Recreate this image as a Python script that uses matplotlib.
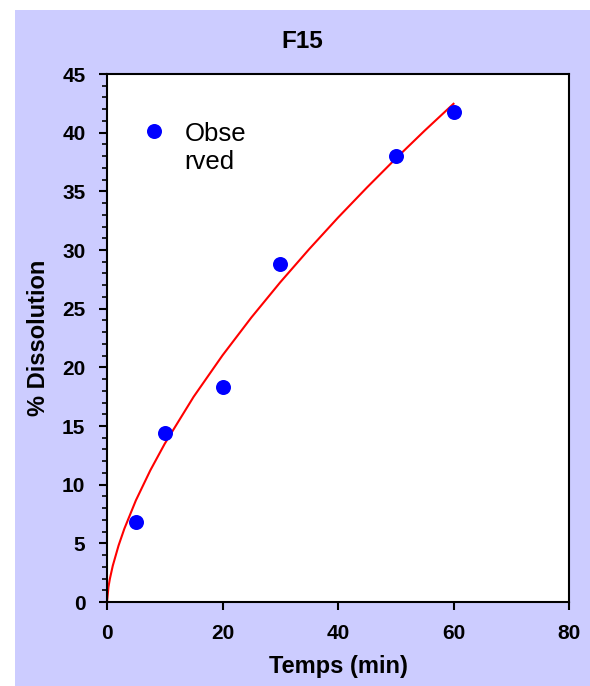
import matplotlib
matplotlib.use("Agg")
import matplotlib.pyplot as plt
from matplotlib.patches import Rectangle
from matplotlib.ticker import MultipleLocator

plt.rcParams['font.family'] = ['Liberation Sans', 'DejaVu Sans']

# Observed dissolution
time_obs = [5, 10, 20, 30, 50, 60]
diss_obs = [6.8, 14.4, 18.3, 28.8, 38.0, 41.8]

# Fitted release curve
time_fit = [0, 0.25, 0.5, 1, 2, 3, 5, 7.5, 10, 15, 20, 25, 30, 35, 40, 45, 50, 55, 60]
diss_fit = [0, 1.27, 1.98, 3.09, 4.81, 6.24, 8.66, 11.22, 13.49, 17.49, 21.02,
            24.25, 27.25, 30.07, 32.76, 35.32, 37.79, 40.17, 42.46]

x_ticks = [0, 20, 40, 60, 80]
y_ticks = [0, 5, 10, 15, 20, 25, 30, 35, 40, 45]

W, H = 590, 686
fig = plt.figure(figsize=(W / 100, H / 100), dpi=100, facecolor='white')
fig.add_artist(Rectangle((15 / W, 0), 1 - 15 / W, 1 - 10 / H,
                         transform=fig.transFigure, facecolor='#CCCCFF',
                         edgecolor='none', zorder=-10))

ax = fig.add_axes([107 / W, (H - 602) / H, 462 / W, 528 / H])
ax.set_facecolor('white')

ax.plot(time_fit, diss_fit, color='red', lw=1.5, zorder=2, clip_on=False)
ax.plot(time_obs, diss_obs, 'o', color='#0000FF', markersize=10.8,
        markeredgewidth=0, zorder=3, label='Obse\nrved')

ax.set_xlim(0, 80)
ax.set_ylim(0, 45)
ax.set_xticks(x_ticks)
ax.set_yticks(y_ticks)
ax.yaxis.set_minor_locator(MultipleLocator(1))

for s in ax.spines.values():
    s.set_linewidth(1.5)
    s.set_color('black')

ax.tick_params(axis='both', which='major', direction='out', length=5.5,
               width=1.5, labelsize=15, pad=10)
ax.tick_params(axis='y', which='minor', direction='out', length=3.5, width=1.2)
for lab in ax.get_xticklabels() + ax.get_yticklabels():
    lab.set_fontweight('bold')

ax.set_xlabel('Temps (min)', fontsize=17, fontweight='bold')
ax.set_ylabel('% Dissolution', fontsize=17, fontweight='bold')
ax.xaxis.set_label_coords(0.5, -(666 - 602) / 528)
ax.yaxis.set_label_coords(-(107 - 39) / 462, 0.5)
ax.xaxis.label.set_va('center')
ax.yaxis.label.set_va('center')

fig.text(302 / W, 1 - 42 / H, 'F15', fontsize=17.5, fontweight='bold',
         ha='center', va='center')

leg = ax.legend(loc='upper left', bbox_to_anchor=(0.0736, 0.909), frameon=False,
                fontsize=18.5, handlelength=1.0, handletextpad=0.7,
                borderaxespad=0, borderpad=0, labelspacing=0.2)
for hp in leg._legend_handle_box.get_children()[0].get_children():
    hp.align = 'top'

fig.savefig('out.png', dpi=100, facecolor=fig.get_facecolor())
